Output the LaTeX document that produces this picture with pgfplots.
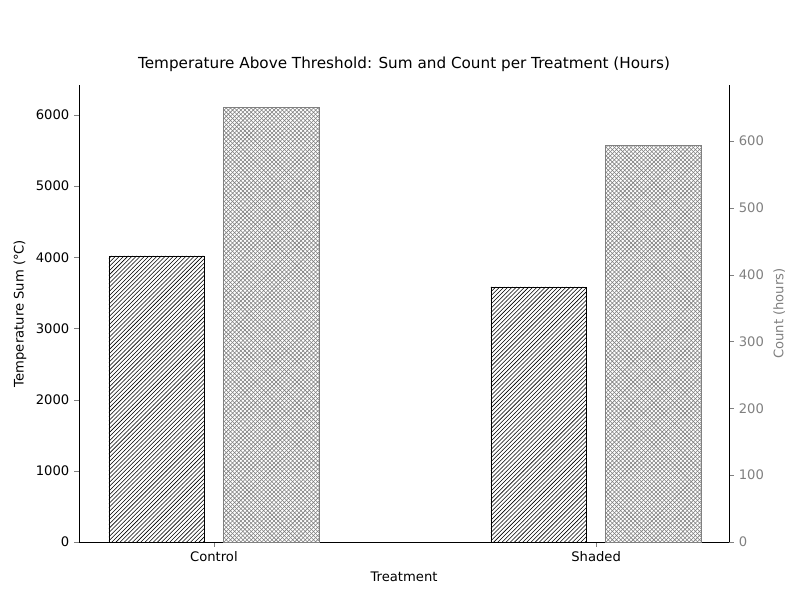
\documentclass[border=0pt]{standalone}
\usepackage{pgfplots}
\pgfplotsset{compat=1.18}
\usetikzlibrary{patterns}
\usepackage{fontspec}
\setmainfont{DejaVu Sans}
\begin{document}
\begin{tikzpicture}[font=\fontsize{9.5}{11}\selectfont]
\path (0,0) rectangle (578.16pt,433.62pt);
\begin{axis}[
  at={(57.1pt,41.9pt)}, anchor=south west,
  scale only axis, width=469.8pt, height=330.3pt,
  xmin=-0.353, xmax=1.348, ymin=0, ymax=6421,
  xtick={0,1}, xticklabels={Control,Shaded},
  ytick={0,1000,2000,3000,4000,5000,6000},
  axis y line*=left, axis x line*=bottom,
  tick align=outside, major tick length=3.5pt,
  /pgf/number format/assume math mode=true,
  /pgf/number format/1000 sep={},
  xlabel={Treatment}, ylabel={Temperature Sum (°C)},
  title={\fontsize{11}{13}\selectfont Temperature Above Threshold: Sum and Count per Treatment (Hours)},
  ybar, bar width=0.25, bar shift=-0.15,
]
\addplot[draw=black, fill=white, postaction={pattern=north east lines}] coordinates {(0,4020) (1,3583)};
\end{axis}
\begin{axis}[
  at={(57.1pt,41.9pt)}, anchor=south west,
  scale only axis, width=469.8pt, height=330.3pt,
  xmin=-0.353, xmax=1.348, ymin=0, ymax=684,
  axis y line*=right, axis x line=none,
  ytick={0,100,200,300,400,500,600},
  tick align=outside, major tick length=3.5pt,
  y axis line style={black}, y tick style={gray},
  yticklabel style={gray},
  /pgf/number format/assume math mode=true,
  ylabel={Count (hours)}, ylabel style={gray},
  ybar, bar width=0.25, bar shift=0.15,
]
\addplot[draw=gray, fill=white, postaction={pattern=crosshatch, pattern color=gray}] coordinates {(0,651) (1,594)};
\end{axis}
\end{tikzpicture}
\end{document}
